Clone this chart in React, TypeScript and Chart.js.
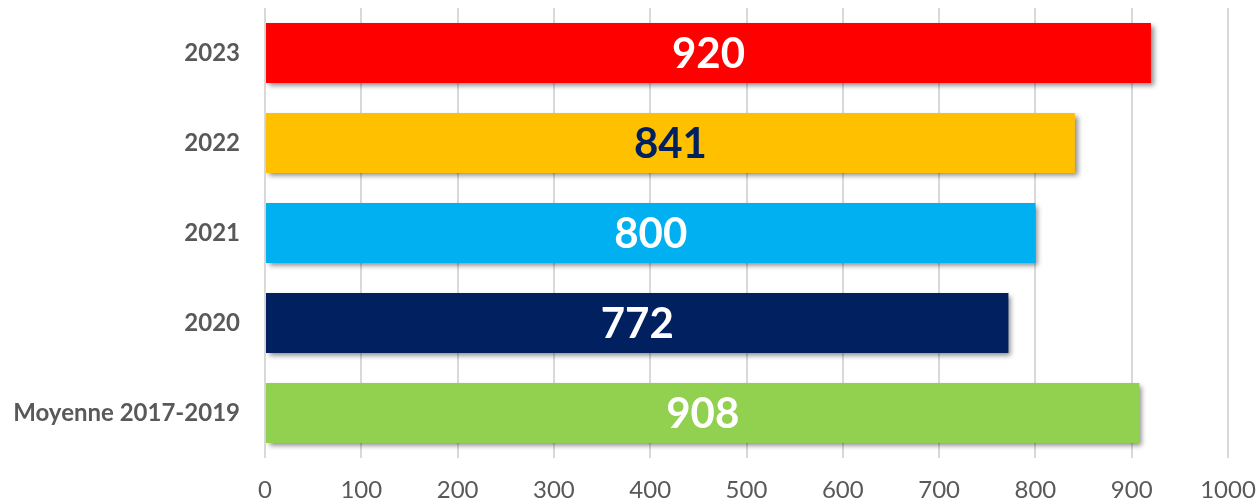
import React, { useEffect, useRef } from "react";
import { Chart, registerables } from "chart.js";

Chart.register(...registerables);

const categories = ["2023", "2022", "2021", "2020", "Moyenne 2017-2019"];
const values = [920, 841, 800, 772, 908];
const barColors = ["#FF0000", "#FFC000", "#00B0F0", "#002060", "#92D050"];
const labelColors = ["#FFFFFF", "#002060", "#FFFFFF", "#FFFFFF", "#FFFFFF"];
const xTicks = [0, 100, 200, 300, 400, 500, 600, 700, 800, 900, 1000];

const FONT = "Lato, 'Open Sans', sans-serif";

const shadowPlugin = {
  id: "barShadow",
  beforeDatasetsDraw(chart: any) {
    const ctx = chart.ctx;
    ctx.save();
    ctx.shadowColor = "rgba(0,0,0,0.45)";
    ctx.shadowBlur = 5;
    ctx.shadowOffsetX = 3;
    ctx.shadowOffsetY = 3;
  },
  afterDatasetsDraw(chart: any) {
    chart.ctx.restore();
  },
};

const valueLabelPlugin = {
  id: "valueLabels",
  afterDraw(chart: any) {
    const ctx = chart.ctx;
    const meta = chart.getDatasetMeta(0);
    ctx.save();
    ctx.font = `bold 42px ${FONT}`;
    ctx.textAlign = "center";
    ctx.textBaseline = "middle";
    meta.data.forEach((bar: any, i: number) => {
      const { x, y, base } = bar.getProps(["x", "y", "base"], true);
      ctx.fillStyle = labelColors[i];
      ctx.fillText(String(values[i]), (x + base) / 2, y + 1);
    });
    ctx.restore();
  },
};

export default function App() {
  const ref = useRef<HTMLCanvasElement | null>(null);

  useEffect(() => {
    document.body.style.margin = "0";
    if (!ref.current) return;
    const chart = new Chart(ref.current, {
      type: "bar",
      data: {
        labels: categories,
        datasets: [
          {
            data: values,
            backgroundColor: barColors,
            borderWidth: 0,
            categoryPercentage: 1,
            barPercentage: 0.667,
          },
        ],
      },
      options: {
        indexAxis: "y",
        animation: false,
        responsive: false,
        maintainAspectRatio: false,
        layout: { padding: { top: 8, right: 32, bottom: 0, left: 0 } },
        plugins: {
          legend: { display: false },
          tooltip: { enabled: false },
        },
        scales: {
          x: {
            min: 0,
            max: 1000,
            afterBuildTicks(scale: any) {
              scale.ticks = xTicks.map((v) => ({ value: v }));
            },
            afterFit(scale: any) {
              scale.height = 44;
              scale.paddingLeft = 0;
              scale.paddingRight = 0;
            },
            grid: { color: "#D9D9D9", lineWidth: 2, drawTicks: false },
            border: { display: false },
            ticks: {
              padding: 18,
              maxRotation: 0,
              color: "#595959",
              font: { family: FONT, size: 24 },
              callback: (v: any) => String(v),
            },
          },
          y: {
            afterFit(scale: any) {
              scale.width = 265;
              scale.paddingTop = 0;
              scale.paddingBottom = 0;
            },
            grid: { display: false, drawTicks: false },
            border: { display: false },
            ticks: {
              padding: 25,
              color: "#595959",
              font: { family: FONT, size: 24, weight: "bold" },
            },
          },
        },
      },
      plugins: [shadowPlugin, valueLabelPlugin],
    });
    return () => chart.destroy();
  }, []);

  return (
    <div style={{ position: "absolute", left: 0, top: 0, width: 1260, height: 502 }}>
      <canvas ref={ref} width={1260} height={502} style={{ display: "block" }} />
    </div>
  );
}
